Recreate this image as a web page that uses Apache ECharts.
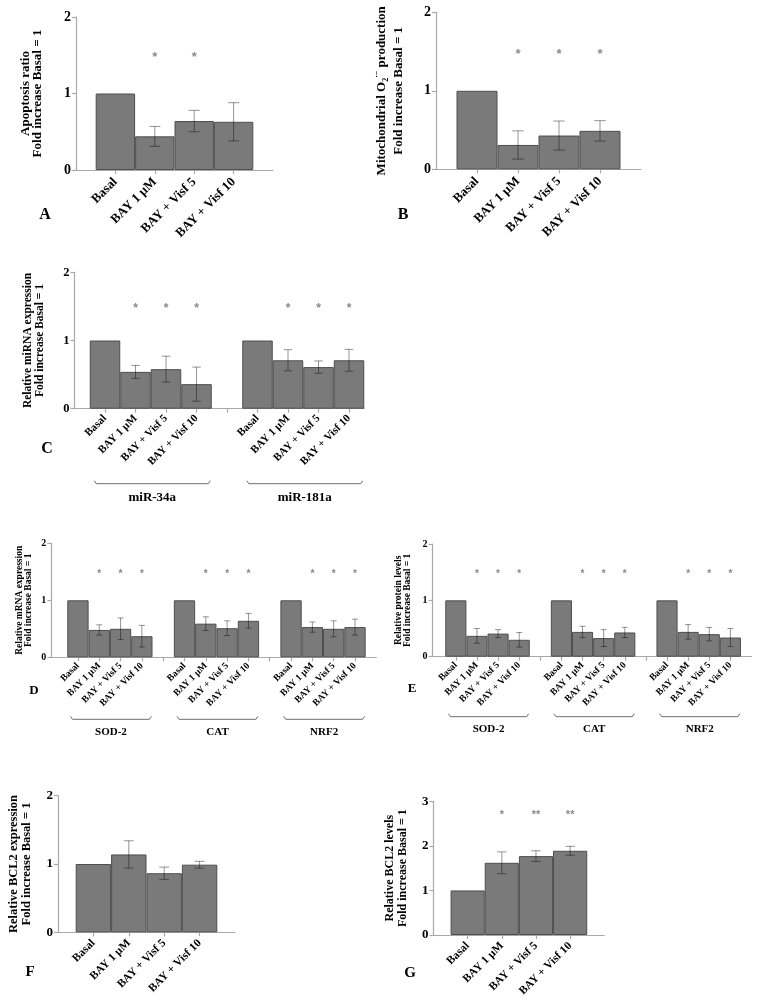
<!DOCTYPE html>
<html><head><meta charset="utf-8">
<script src="https://cdn.jsdelivr.net/npm/echarts@6/dist/echarts.min.js"></script>
<style>html,body{margin:0;padding:0;background:#fff}#c{width:762px;height:1004px}</style>
</head><body><div id="c"></div>
<script>
// ---------------- DATA ----------------
const treatments = ['Basal', 'BAY 1 μM', 'BAY + Visf 5', 'BAY + Visf 10'];
const yTicks = [0, 1, 2];
const yTicksG = [0, 1, 2, 3];

// A: Apoptosis ratio
const apoptosisMean = [1.00, 0.44, 0.64, 0.63];
const apoptosisErr  = [0, 0.13, 0.14, 0.25];
const apoptosisSig  = ['', '*', '*', ''];

// B: Mitochondrial O2- production
const o2Mean = [1.00, 0.31, 0.43, 0.49];
const o2Err  = [0, 0.18, 0.185, 0.13];
const o2Sig  = ['', '*', '*', '*'];

// C: miRNA expression
const mirGroups = ['miR-34a', 'miR-181a'];
const mir34aMean = [1.00, 0.54, 0.58, 0.36];
const mir34aErr  = [0, 0.095, 0.19, 0.25];
const mir181aMean = [1.00, 0.71, 0.61, 0.71];
const mir181aErr  = [0, 0.155, 0.09, 0.16];
const mirSig = ['', '*', '*', '*'];

// D: mRNA expression
const geneGroups = ['SOD-2', 'CAT', 'NRF2'];
const mrnaSod2Mean = [1.00, 0.48, 0.50, 0.37];
const mrnaSod2Err  = [0, 0.09, 0.19, 0.19];
const mrnaCatMean  = [1.00, 0.59, 0.51, 0.64];
const mrnaCatErr   = [0, 0.12, 0.13, 0.13];
const mrnaNrf2Mean = [1.00, 0.53, 0.50, 0.53];
const mrnaNrf2Err  = [0, 0.09, 0.14, 0.14];
const mrnaSig = ['', '*', '*', '*'];

// E: protein levels
const protSod2Mean = [1.00, 0.37, 0.41, 0.30];
const protSod2Err  = [0, 0.13, 0.07, 0.13];
const protCatMean  = [1.00, 0.44, 0.33, 0.43];
const protCatErr   = [0, 0.10, 0.15, 0.09];
const protNrf2Mean = [1.00, 0.44, 0.40, 0.34];
const protNrf2Err  = [0, 0.13, 0.12, 0.16];
const protSig = ['', '*', '*', '*'];

// F: BCL2 expression
const bcl2ExprMean = [1.00, 1.14, 0.865, 0.99];
const bcl2ExprErr  = [0, 0.20, 0.09, 0.05];
const bcl2ExprSig  = ['', '', '', ''];

// G: BCL2 levels
const bcl2LevelMean = [1.00, 1.62, 1.77, 1.89];
const bcl2LevelErr  = [0, 0.245, 0.12, 0.10];
const bcl2LevelSig  = ['', '*', '**', '**'];

// ---------------- LAYOUT ----------------
const FONT = '"Liberation Serif", "Times New Roman", serif';
const panels = [
  { letter: 'A', lp: [45, 215], lfs: 16,
    grid: { left: 76, top: 17, width: 197, height: 153 }, xMin: 0, xMax: 5, yTicks: yTicks, sigY: 1.5,
    groups: null, means: [apoptosisMean], errs: [apoptosisErr], sig: [apoptosisSig],
    yName: 'Apoptosis ratio\nFold increase Basal = 1',
    fs: { x: 13, y: 14, name: 13, lh: 12.5, sig: 13 }, nameGap: 32, xMargin: 10 },
  { letter: 'B', lp: [403, 215], lfs: 16,
    grid: { left: 436, top: 12.3, width: 205, height: 157 }, xMin: 0, xMax: 5, yTicks: yTicks, sigY: 1.5,
    groups: null, means: [o2Mean], errs: [o2Err], sig: [o2Sig],
    yName: '{t|Mitochondrial O}{sub|2}{sup|·−}{t| production}\n{t|Fold increase Basal = 1}',
    fs: { x: 13, y: 14, name: 13, lh: 17, sig: 13 }, nameGap: 29, xMargin: 10 },
  { letter: 'C', lp: [47, 449], lfs: 16,
    grid: { left: 74.5, top: 272.3, width: 289.75, height: 136.4 }, xMin: 0, xMax: 9.5, yTicks: yTicks, sigY: 1.5,
    groups: mirGroups, means: [mir34aMean, mir181aMean], errs: [mir34aErr, mir181aErr], sig: [mirSig, mirSig],
    yName: 'Relative miRNA expression\nFold increase Basal = 1',
    fs: { x: 11, y: 12.5, name: 11.5, lh: 12, sig: 12, br: 13 }, nameGap: 28, xMargin: 8,
    brLine: 75, brText: 89 },
  { letter: 'D', lp: [34, 691], lfs: 13,
    grid: { left: 51.3, top: 543.3, width: 325, height: 114 }, xMin: -0.25, xMax: 15, yTicks: yTicks, sigY: 1.5,
    groups: geneGroups, means: [mrnaSod2Mean, mrnaCatMean, mrnaNrf2Mean], errs: [mrnaSod2Err, mrnaCatErr, mrnaNrf2Err],
    sig: [mrnaSig, mrnaSig, mrnaSig],
    yName: 'Relative mRNA expression\nFold increase Basal = 1',
    fs: { x: 9.5, y: 10, name: 9.5, lh: 9, sig: 10, br: 11 }, nameGap: 18, xMargin: 7,
    brLine: 62, brText: 75 },
  { letter: 'E', lp: [412, 689], lfs: 13,
    grid: { left: 432.6, top: 544, width: 318.9, height: 112.7 }, xMin: -0.1, xMax: 15, yTicks: yTicks, sigY: 1.5,
    groups: geneGroups, means: [protSod2Mean, protCatMean, protNrf2Mean], errs: [protSod2Err, protCatErr, protNrf2Err],
    sig: [protSig, protSig, protSig],
    yName: 'Relative protein levels\nFold increase Basal = 1',
    fs: { x: 9.5, y: 10, name: 9.5, lh: 9.5, sig: 10, br: 11 }, nameGap: 20, xMargin: 7,
    brLine: 60, brText: 72 },
  { letter: 'F', lp: [30, 972], lfs: 15,
    grid: { left: 58, top: 795.7, width: 177, height: 136.6 }, xMin: 0, xMax: 5, yTicks: yTicks, sigY: 1.5,
    groups: null, means: [bcl2ExprMean], errs: [bcl2ExprErr], sig: [bcl2ExprSig],
    yName: 'Relative BCL2 expression\nFold increase Basal = 1',
    fs: { x: 11.5, y: 13, name: 12.5, lh: 13, sig: 12 }, nameGap: 25, xMargin: 9 },
  { letter: 'G', lp: [410, 973], lfs: 15,
    grid: { left: 433.5, top: 801.3, width: 170.8, height: 133.7 }, xMin: 0, xMax: 5, yTicks: yTicksG, sigY: 2.75,
    groups: null, means: [bcl2LevelMean], errs: [bcl2LevelErr], sig: [bcl2LevelSig],
    yName: 'Relative BCL2 levels\nFold increase Basal = 1',
    fs: { x: 11.5, y: 13, name: 12, lh: 13, sig: 11 }, nameGap: 24, xMargin: 9 }
];

const AXIS_COLOR = '#a9a9a9';
const BAR_COLOR = '#7a7a7a';
const BAR_BORDER = '#4e4e4e';
const ERR_COLOR = 'rgba(0,0,0,0.42)';
const SIG_COLOR = '#8a8a8a';

const grids = [], xAxes = [], yAxes = [], series = [], graphics = [];

panels.forEach((p, i) => {
  const nG = p.means.length;
  const pos = (g, k) => g * 5 + k + 1;
  const barData = [], errData = [], sigData = [], labelMap = {}, tickVals = [], labelVals = [];
  p.means.forEach((arr, g) => {
    arr.forEach((m, k) => {
      const x = pos(g, k);
      barData.push([x, m]);
      if (p.errs[g][k] > 0) errData.push([x, m, p.errs[g][k]]);
      if (p.sig[g][k]) sigData.push([x, p.sigY, g, k]);
      labelMap[x] = treatments[k];
      tickVals.push(x); labelVals.push(x);
    });
    if (g < nG - 1) tickVals.push(pos(g, 4));
  });
  tickVals.sort((a, b) => a - b);

  grids.push(Object.assign({ containLabel: false }, p.grid));
  const lineStyle = { color: AXIS_COLOR, width: 1.2 };
  xAxes.push({
    gridIndex: i, type: 'value', min: p.xMin, max: p.xMax,
    splitLine: { show: false },
    axisLine: { show: true, onZero: false, lineStyle },
    axisTick: { show: true, customValues: tickVals, length: 4, lineStyle },
    axisLabel: {
      show: true, customValues: labelVals, rotate: 45, margin: p.xMargin,
      formatter: v => labelMap[v] || '',
      fontFamily: FONT, fontWeight: 'bold', fontSize: p.fs.x, color: '#000'
    }
  });
  const rich = {
    t: { fontFamily: FONT, fontWeight: 'bold', fontSize: p.fs.name, lineHeight: p.fs.lh, color: '#000' },
    sub: { fontFamily: FONT, fontWeight: 'bold', fontSize: 8, lineHeight: 8, verticalAlign: 'bottom', color: '#000' },
    sup: { fontFamily: FONT, fontWeight: 'bold', fontSize: 8, lineHeight: 8, verticalAlign: 'top', color: '#000' }
  };
  yAxes.push({
    gridIndex: i, type: 'value', min: 0, max: p.yTicks[p.yTicks.length - 1], interval: 1,
    splitLine: { show: false },
    axisLine: { show: true, onZero: false, lineStyle },
    axisTick: { show: true, length: 4, lineStyle },
    axisLabel: { fontFamily: FONT, fontWeight: 'bold', fontSize: p.fs.y, color: '#000', margin: 5 },
    name: p.yName, nameLocation: 'middle', nameRotate: 90, nameGap: p.nameGap,
    nameTextStyle: { fontFamily: FONT, fontWeight: 'bold', fontSize: p.fs.name, lineHeight: p.fs.lh, color: '#000', rich }
  });

  series.push({
    type: 'bar', xAxisIndex: i, yAxisIndex: i, data: barData, barWidth: '100%',
    itemStyle: { color: BAR_COLOR, borderColor: BAR_BORDER, borderWidth: 1 },
    emphasis: { disabled: true }, silent: true
  });
  series.push({
    type: 'custom', xAxisIndex: i, yAxisIndex: i, data: errData, silent: true, z: 3,
    encode: { x: 0, y: 1 },
    renderItem: (params, api) => {
      const x = api.value(0), m = api.value(1), e = api.value(2);
      const top = api.coord([x, m + e]), bot = api.coord([x, m - e]);
      const cap = api.size([1, 0])[0] * 0.14;
      const st = { stroke: ERR_COLOR, lineWidth: 1 };
      return { type: 'group', children: [
        { type: 'line', shape: { x1: top[0], y1: top[1], x2: bot[0], y2: bot[1] }, style: st },
        { type: 'line', shape: { x1: top[0] - cap, y1: top[1], x2: top[0] + cap, y2: top[1] }, style: st },
        { type: 'line', shape: { x1: bot[0] - cap, y1: bot[1], x2: bot[0] + cap, y2: bot[1] }, style: st }
      ] };
    }
  });
  if (sigData.length) {
    series.push({
      type: 'custom', xAxisIndex: i, yAxisIndex: i, data: sigData, silent: true, z: 3,
      encode: { x: 0, y: 1 },
      renderItem: (params, api) => {
        const c = api.coord([api.value(0), api.value(1)]);
        const txt = p.sig[api.value(2)][api.value(3)];
        return { type: 'text', x: c[0], y: c[1] + p.fs.sig * 0.2,
          style: { text: txt, fill: SIG_COLOR, font: 'bold ' + p.fs.sig + 'px "Liberation Sans", Arial, sans-serif',
            align: 'center', verticalAlign: 'middle' } };
      }
    });
  }
  if (p.groups) {
    const brData = p.groups.map((name, g) => [pos(g, 0), pos(g, 3)]);
    series.push({
      type: 'custom', xAxisIndex: i, yAxisIndex: i, data: brData, silent: true,
      encode: { x: 0 },
      renderItem: (params, api) => {
        const g = params.dataIndex;
        const a = api.coord([api.value(0) - 0.35, 0]);
        const b = api.coord([api.value(1) + 0.45, 0]);
        const y = a[1] + p.brLine;
        const ty = a[1] + p.brText;
        return { type: 'group', children: [
          { type: 'polyline', shape: { points: [[a[0], y - 3], [a[0] + 2, y], [b[0] - 2, y], [b[0], y - 3]] },
            style: { stroke: '#6e6e6e', lineWidth: 1, fill: null } },
          { type: 'text', x: (a[0] + b[0]) / 2, y: ty,
            style: { text: p.groups[g], fill: '#000', font: 'bold ' + p.fs.br + 'px ' + FONT,
              align: 'center', verticalAlign: 'middle' } }
        ] };
      }
    });
  }
  graphics.push({ type: 'text', x: p.lp[0], y: p.lp[1],
    style: { text: p.letter, fill: '#000', font: 'bold ' + p.lfs + 'px ' + FONT, align: 'center', verticalAlign: 'middle' } });
});

const chart = echarts.init(document.getElementById('c'), null, { renderer: 'canvas' });
chart.setOption({
  animation: false,
  backgroundColor: '#fff',
  grid: grids, xAxis: xAxes, yAxis: yAxes, series: series, graphic: graphics
});
</script></body></html>
